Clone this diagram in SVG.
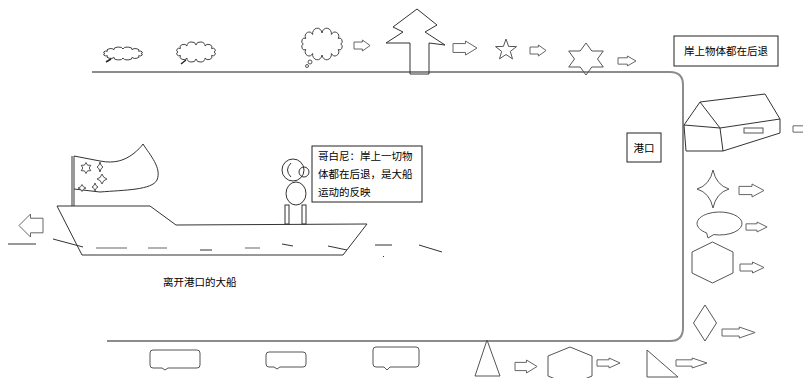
<svg xmlns="http://www.w3.org/2000/svg" xmlns:xlink="http://www.w3.org/1999/xlink" width="803" height="378" viewBox="0 0 803 378">
  <style>
    .road { fill: none; stroke: #8c8c8c; stroke-width: 2; }
    .ln { fill: none; stroke: #333; stroke-width: 1; }
    .sh { fill: none; stroke: #555; stroke-width: 1; }
    .gr { fill: none; stroke: #999; stroke-width: 1.5; }
    .box { fill: #fff; stroke: #222; stroke-width: 1; }
    .t { font-family: "Noto Sans CJK SC", "Noto Sans", sans-serif; font-size: 10.5px; fill: #000; }
  </style>
  <defs>
    <!-- hollow block arrow, 24 x 12 units, pointing right -->
    <path id="arrow" d="M0,2.2 H12.5 V0 L24,6 L12.5,12 V9.8 H0 Z" fill="#fff" stroke="#666" stroke-width="1" vector-effect="non-scaling-stroke"/>
    <!-- scalloped cloud around the origin -->
    <path id="cloud" d="M20,0 A1,1 0 0 1 17.32,5 A1,1 0 0 1 10,8.66 A1,1 0 0 1 0,10 A1,1 0 0 1 -10,8.66 A1,1 0 0 1 -17.32,5 A1,1 0 0 1 -20,0 A1,1 0 0 1 -17.32,-5 A1,1 0 0 1 -10,-8.66 A1,1 0 0 1 0,-10 A1,1 0 0 1 10,-8.66 A1,1 0 0 1 17.32,-5 A1,1 0 0 1 20,0 Z" fill="#fff" stroke="#444" stroke-width="1" vector-effect="non-scaling-stroke"/>
    <!-- four-pointed star, radius 10 -->
    <path id="star4" d="M0,-10 Q2,-2 10,0 Q2,2 0,10 Q-2,2 -10,0 Q-2,-2 0,-10 Z" fill="#fff" stroke="#555" stroke-width="1" vector-effect="non-scaling-stroke"/>
  </defs>

  <rect width="803" height="378" fill="#fff"/>

  <!-- the road round the harbour -->
  <g id="road">
    <path class="road" d="M92,72 H670 Q683,72 683,85 V328 Q683,341 670,341 H107"/>
  </g>

  <!-- top row -->
  <g id="cloud-1">
    <use href="#cloud" transform="translate(123,53.5) scale(0.9,0.45)"/>
    <path d="M111,59 L106,62" stroke="#222" stroke-width="1.5" fill="none"/>
  </g>
  <g id="cloud-2">
    <use href="#cloud" transform="translate(196,52) scale(0.9,0.7)"/>
    <path d="M186,60 L181,64" stroke="#222" stroke-width="1.5" fill="none"/>
  </g>
  <g id="cloud-3">
    <use href="#cloud" transform="translate(322,44) scale(0.94,1.1)"/>
    <circle cx="310" cy="62" r="2" class="sh"/>
    <circle cx="307" cy="66" r="1.5" class="sh"/>
  </g>
  <g id="tree">
    <path class="ln" d="M417,9 L393,27 L403,32 L386,43 L410,43 L410,74 L429,74 L429,43 L445,45 L425,32 L437,25 Z"/>
  </g>
  <g id="star-5">
    <path class="sh" d="M506,39 L508.6,46.4 L516.5,46.6 L510.3,51.4 L512.5,58.9 L506,54.5 L499.5,58.9 L501.7,51.4 L495.5,46.6 L503.4,46.4 Z"/>
  </g>
  <g id="star-6">
    <path class="sh" d="M586,43 L591.8,51 L603.3,51 L597.5,59 L603.3,67 L591.8,67 L586,75 L580.2,67 L568.7,67 L574.5,59 L568.7,51 L580.2,51 Z"/>
  </g>
  <g id="label-shore">
    <rect class="box" x="674" y="36" width="104" height="30"/>
    <text class="t" x="726" y="55" text-anchor="middle">岸上物体都在后退</text>
  </g>

  <!-- harbour label -->
  <g id="label-harbour">
    <rect class="box" x="627" y="133" width="34" height="29"/>
    <text class="t" x="644" y="152" text-anchor="middle">港口</text>
  </g>

  <!-- house on the right bank -->
  <g id="house">
    <path class="ln" d="M700,102 L684,125 L720,128 Z M700,102 L765,94 L780,119 L720,128 M684,125 L686,151 L723,151 L720,128 M780,119 L780,133 L723,151"/>
    <rect class="sh" x="744" y="128" width="19" height="5"/>
  </g>

  <!-- right column -->
  <g id="star-4">
    <use href="#star4" transform="translate(713,189) scale(1.6,1.9)"/>
  </g>
  <g id="speech-oval">
    <path class="sh" d="M713.7,234.6 A22.5,11.5 0 1 0 706.6,232.9 L708,238 Z"/>
  </g>
  <g id="hexagon-right">
    <path class="sh" d="M712.5,242 L733,252 L733,273 L712.5,283 L692,273 L692,252 Z"/>
  </g>
  <g id="diamond">
    <path class="sh" d="M705,305 L716.5,323 L705,341 L693.5,323 Z"/>
  </g>

  <!-- bottom row -->
  <g id="speech-1">
    <path class="sh" d="M153,350 H197 Q200,350 200,353 V365 Q200,368 197,368 H168 L165,370 L162,368 H153 Q150,368 150,365 V353 Q150,350 153,350 Z"/>
  </g>
  <g id="speech-2">
    <path class="sh" d="M269,352 H303 Q306,352 306,355 V364 Q306,367 303,367 H280 L277,369 L274,367 H269 Q266,367 266,364 V355 Q266,352 269,352 Z"/>
  </g>
  <g id="speech-3">
    <path class="sh" d="M376,347 H416 Q419,347 419,350 V364 Q419,367 416,367 H390 L387,370 L384,367 H376 Q373,367 373,364 V350 Q373,347 376,347 Z"/>
  </g>
  <g id="triangle">
    <path class="sh" d="M487,340 L500,376 L475,376 Z"/>
  </g>
  <g id="hexagon-bottom">
    <path class="sh" d="M570,347 L592,356 L592,376 L570,385 L548,376 L548,356 Z"/>
  </g>
  <g id="right-triangle">
    <path class="sh" d="M647,350 L678,377 L647,377 Z"/>
  </g>

  <!-- the ship leaving the harbour -->
  <g id="ship">
    <path class="ln" d="M57,206 L150,206 L176,225 L367,224 L343,255 L82,255 Z"/>
    <path class="ln" d="M72,156 V206 M74,156 V206"/>
    <path class="ln" d="M74,156 L100,161 C115,164 125,160 133,154 C138,150 141,147 143,144 C150,155 162,168 157,180 C152,190 125,190 100,192 L74,189"/>
    <path class="sh" d="M86,162.5 L87.6,165.2 L90.8,165.3 L89.2,168 L90.8,170.7 L87.6,170.8 L86,173.5 L84.4,170.8 L81.2,170.7 L82.8,168 L81.2,165.3 L84.4,165.2 Z"/>
    <use href="#star4" transform="translate(100,167) scale(0.3,0.5)"/>
    <use href="#star4" transform="translate(102,179) scale(0.5,0.5)"/>
    <use href="#star4" transform="translate(82,188) scale(0.4,0.35)"/>
    <use href="#star4" transform="translate(95,187) scale(0.3,0.4)"/>
  </g>

  <!-- Copernicus on deck -->
  <g id="person">
    <circle class="ln" cx="293" cy="170" r="11"/>
    <circle class="ln" cx="304" cy="172" r="5"/>
    <path class="ln" d="M291,163 Q284,170 291,177"/>
    <ellipse class="ln" cx="296" cy="193.5" rx="10" ry="11.5"/>
    <rect class="ln" x="285" y="205" width="4" height="19"/>
    <rect class="ln" x="302" y="205" width="4" height="19"/>
  </g>
  <g id="label-copernicus">
    <rect class="box" x="312" y="146" width="110" height="56"/>
    <text class="t" x="318" y="160">哥白尼：岸上一切物</text>
    <text class="t" x="318" y="178">体都在后退，是大船</text>
    <text class="t" x="318" y="196">运动的反映</text>
  </g>
  <g id="label-ship">
    <text class="t" x="163" y="286">离开港口的大船</text>
  </g>

  <!-- water line -->
  <g id="water">
    <path class="ln" d="M8,244 H36 M53,239 L83,247 M200,250 H212 M282,244 L293,246 M328,246 L347,250 M375,245 L392,245 M419,245 L442,252"/>
    <path class="gr" d="M96,248 H127 M148,248 H167 M245,248 H260"/>
    <rect x="383" y="256" width="1" height="1" fill="#333"/>
  </g>

  <!-- direction arrows -->
  <g id="connectors">
    <use href="#arrow" transform="translate(43,214) scale(-1,1.92)"/>
    <use href="#arrow" transform="translate(354,40) scale(0.67,0.92)"/>
    <use href="#arrow" transform="translate(453,41) scale(1,1.17)"/>
    <use href="#arrow" transform="translate(530,45) scale(0.67,0.92)"/>
    <use href="#arrow" transform="translate(618,56) scale(0.75,0.83)"/>
    <use href="#arrow" transform="translate(793,124) scale(1,0.83)"/>
    <use href="#arrow" transform="translate(739,184) scale(1.04,1.08)"/>
    <use href="#arrow" transform="translate(746,222) scale(0.88,0.83)"/>
    <use href="#arrow" transform="translate(740,262) scale(1,0.92)"/>
    <use href="#arrow" transform="translate(722,327) scale(1.38,0.92)"/>
    <use href="#arrow" transform="translate(515,360) scale(0.92,1.08)"/>
    <use href="#arrow" transform="translate(597,358) scale(0.96,0.83)"/>
    <use href="#arrow" transform="translate(676,358) scale(1.29,0.83)"/>
  </g>
</svg>
